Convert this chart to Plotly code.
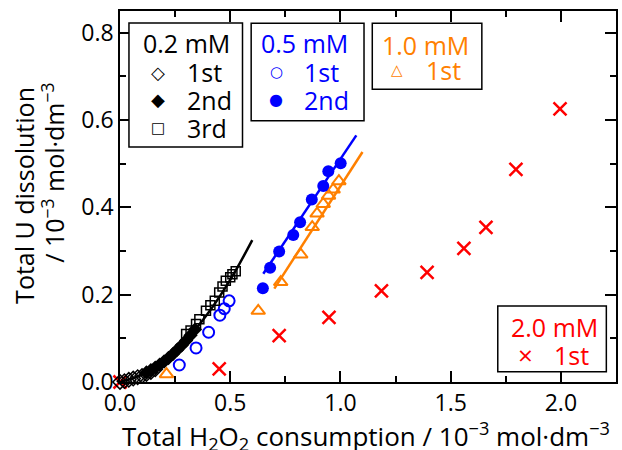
import plotly.graph_objects as go

# ---- data ----
c02_1st_x = [0.0, 0.02, 0.04, 0.06, 0.08, 0.10, 0.12, 0.14, 0.16]
c02_1st_y = [0.0, 0.002, 0.005, 0.008, 0.011, 0.014, 0.018, 0.023, 0.029]
c02_2nd_x = [0.12, 0.14, 0.16, 0.18, 0.20, 0.22, 0.24, 0.26, 0.28, 0.30, 0.32, 0.34]
c02_2nd_y = [0.022, 0.027, 0.033, 0.040, 0.047, 0.055, 0.064, 0.074, 0.084, 0.095, 0.107, 0.120]
c02_3rd_x = [0.30, 0.32, 0.345, 0.36, 0.39, 0.41, 0.43, 0.45, 0.465, 0.48, 0.50, 0.51, 0.525]
c02_3rd_y = [0.110, 0.118, 0.133, 0.144, 0.163, 0.176, 0.186, 0.205, 0.219, 0.232, 0.240, 0.247, 0.254]
c02_fit_x = [0.0, 0.1, 0.2, 0.3, 0.4, 0.5, 0.6]
c02_fit_y = [0.0, 0.017, 0.049, 0.096, 0.158, 0.234, 0.325]

c05_1st_x = [0.269, 0.345, 0.402, 0.453, 0.473, 0.495]
c05_1st_y = [0.039, 0.078, 0.114, 0.153, 0.168, 0.186]
c05_2nd_x = [0.648, 0.681, 0.722, 0.786, 0.817, 0.870, 0.922, 0.945, 1.001]
c05_2nd_y = [0.215, 0.262, 0.299, 0.337, 0.366, 0.418, 0.449, 0.483, 0.501]
c05_fit_x = [0.650, 1.072]
c05_fit_y = [0.248, 0.565]

c10_1st_x = [0.211, 0.627, 0.729, 0.820, 0.872, 0.894, 0.922, 0.946, 0.967, 0.993]
c10_1st_y = [0.018, 0.163, 0.229, 0.292, 0.355, 0.386, 0.408, 0.427, 0.441, 0.460]
c10_fit_x = [0.700, 1.100]
c10_fit_y = [0.214, 0.527]

c20_1st_x = [0.0, 0.450, 0.722, 0.948, 1.186, 1.393, 1.560, 1.660, 1.796, 1.996]
c20_1st_y = [0.0, 0.030, 0.106, 0.148, 0.209, 0.251, 0.306, 0.354, 0.487, 0.626]

x_ticks = [0.0, 0.5, 1.0, 1.5, 2.0]
y_ticks = [0.0, 0.2, 0.4, 0.6, 0.8]

legend_titles = ["0.2 mM", "0.5 mM", "1.0 mM", "2.0 mM"]
run_labels = ["1st", "2nd", "3rd"]

BLACK = "#000000"
BLUE = "#0000FF"
ORANGE = "#FF8000"
RED = "#FF0000"
FONT = "Open Sans"
SYMFONT = "DejaVu Sans"

W, H = 622, 450
ML, MR, MT, MB = 120, 4, 11, 68

def pxx(x):
    return (x - ML) / (W - ML - MR)

def pxy(y):
    return (H - MB - y) / (H - MT - MB)

fig = go.Figure()

# 2.0 mM
fig.add_trace(go.Scatter(x=c20_1st_x, y=c20_1st_y, mode="markers", showlegend=False,
                         marker=dict(symbol="x-thin-open", size=13, color=RED, line=dict(color=RED, width=2.5)),
                         cliponaxis=False))
# 1.0 mM
fig.add_trace(go.Scatter(x=c10_fit_x, y=c10_fit_y, mode="lines", showlegend=False,
                         line=dict(color=ORANGE, width=2.5)))
fig.add_trace(go.Scatter(x=c10_1st_x, y=c10_1st_y, mode="markers", showlegend=False,
                         marker=dict(symbol="triangle-up-open", size=12, color=ORANGE, line=dict(color=ORANGE, width=2)),
                         cliponaxis=False))
# 0.5 mM
fig.add_trace(go.Scatter(x=c05_fit_x, y=c05_fit_y, mode="lines", showlegend=False,
                         line=dict(color=BLUE, width=2.5)))
fig.add_trace(go.Scatter(x=c05_1st_x, y=c05_1st_y, mode="markers", showlegend=False,
                         marker=dict(symbol="circle-open", size=11, color=BLUE, line=dict(color=BLUE, width=2)),
                         cliponaxis=False))
fig.add_trace(go.Scatter(x=c05_2nd_x, y=c05_2nd_y, mode="markers", showlegend=False,
                         marker=dict(symbol="circle", size=12, color=BLUE),
                         cliponaxis=False))
# 0.2 mM
fig.add_trace(go.Scatter(x=c02_fit_x, y=c02_fit_y, mode="lines", showlegend=False, line_shape="spline",
                         line=dict(color=BLACK, width=2.5)))
fig.add_trace(go.Scatter(x=c02_1st_x, y=c02_1st_y, mode="markers", showlegend=False,
                         marker=dict(symbol="diamond-open", size=11, color=BLACK, line=dict(color=BLACK, width=1.5)),
                         cliponaxis=False))
fig.add_trace(go.Scatter(x=c02_2nd_x, y=c02_2nd_y, mode="markers", showlegend=False,
                         marker=dict(symbol="diamond", size=11, color=BLACK),
                         cliponaxis=False))
fig.add_trace(go.Scatter(x=c02_3rd_x, y=c02_3rd_y, mode="markers", showlegend=False,
                         marker=dict(symbol="square-open", size=9, color=BLACK, line=dict(color=BLACK, width=1.5)),
                         cliponaxis=False))

axis_common = dict(
    showline=True, linecolor=BLACK, linewidth=1.5, mirror="ticks",
    ticks="inside", ticklen=11, tickwidth=1.5, tickcolor=BLACK,
    showgrid=False, zeroline=False, tickformat=".1f",
    tickfont=dict(family=FONT, size=23, color=BLACK),
)

fig.update_xaxes(range=[0, 2.25], tickvals=x_ticks,
                 minor=dict(dtick=0.25, tick0=0, ticks="inside", ticklen=6, tickwidth=1.5, tickcolor=BLACK),
                 **axis_common)
fig.update_yaxes(range=[0, 0.85], tickvals=y_ticks,
                 minor=dict(dtick=0.1, tick0=0, ticks="inside", ticklen=6, tickwidth=1.5, tickcolor=BLACK),
                 **axis_common)

fig.update_layout(
    width=W, height=H,
    margin=dict(l=ML, r=MR, t=MT, b=MB),
    paper_bgcolor="white", plot_bgcolor="white",
    font=dict(family=FONT, color=BLACK),
    showlegend=False,
)

# ---- legend boxes (layout only) ----
boxes = [
    # (left, top, right, bottom, color, title_cx, title_cy, sym_x, lab_x, rows)
    (129, 23, 243, 147, BLACK, 186.7, 43, 158, 185, [("◇", run_labels[0], 72), ("◆", run_labels[1], 100), ("□", run_labels[2], 128)]),
    (251.7, 23.3, 365, 120.7, BLUE, 305, 43, 276.7, 303, [("○", run_labels[0], 72), ("●", run_labels[1], 100)]),
    (373.3, 23.3, 483.3, 89.3, ORANGE, 427.2, 45, 397.7, 425, [("△", run_labels[0], 70)]),
    (499.3, 306, 608.3, 371.7, RED, 555.8, 326.7, 526.7, 553.3, [("×", run_labels[0], 355)]),
]

sym_sizes = {"◇": 18, "◆": 18, "□": 15, "○": 15, "●": 16, "△": 15}

for i, (l, t, r, b, col, tcx, tcy, sx, lx, rows) in enumerate(boxes):
    fig.add_shape(type="rect", xref="paper", yref="paper",
                  x0=pxx(l), x1=pxx(r), y0=pxy(b), y1=pxy(t),
                  line=dict(color=BLACK, width=1.5), fillcolor="white", layer="above")
    fig.add_annotation(text=legend_titles[i], xref="paper", yref="paper",
                       x=pxx(tcx), y=pxy(tcy), xanchor="center", yanchor="middle",
                       showarrow=False, font=dict(family=FONT, size=25, color=col))
    for sym, lab, ry in rows:
        if sym == "×":
            sfont = dict(family=FONT, size=26, color=col)
        else:
            sfont = dict(family=SYMFONT, size=sym_sizes[sym], color=col)
        fig.add_annotation(text=sym, xref="paper", yref="paper",
                           x=pxx(sx), y=pxy(ry), xanchor="center", yanchor="middle",
                           showarrow=False, font=sfont)
        fig.add_annotation(text=lab, xref="paper", yref="paper",
                           x=pxx(lx), y=pxy(ry), xanchor="left", yanchor="middle",
                           showarrow=False, font=dict(family=FONT, size=25, color=col))

# ---- axis titles ----
fig.add_annotation(text="Total U dissolution", xref="paper", yref="paper",
                   x=pxx(24), y=pxy(195.5), xanchor="center", yanchor="middle", textangle=-90,
                   showarrow=False, font=dict(family=FONT, size=25, color=BLACK))
fig.add_annotation(text="/ 10<sup>−3</sup> mol·dm<sup>−3</sup>", xref="paper", yref="paper",
                   x=pxx(53), y=pxy(172.5), xanchor="center", yanchor="middle", textangle=-90,
                   showarrow=False, font=dict(family=FONT, size=25, color=BLACK))
fig.add_annotation(text="Total H<sub>2</sub>O<sub>2</sub> consumption / 10<sup>−3</sup> mol·dm<sup>−3</sup>",
                   xref="paper", yref="paper", x=pxx(366.5), y=pxy(436), xanchor="center", yanchor="middle",
                   showarrow=False, font=dict(family=FONT, size=26, color=BLACK))

fig.write_html("out.html", config={"displayModeBar": False},
               post_script="document.body.style.margin='0px';")
